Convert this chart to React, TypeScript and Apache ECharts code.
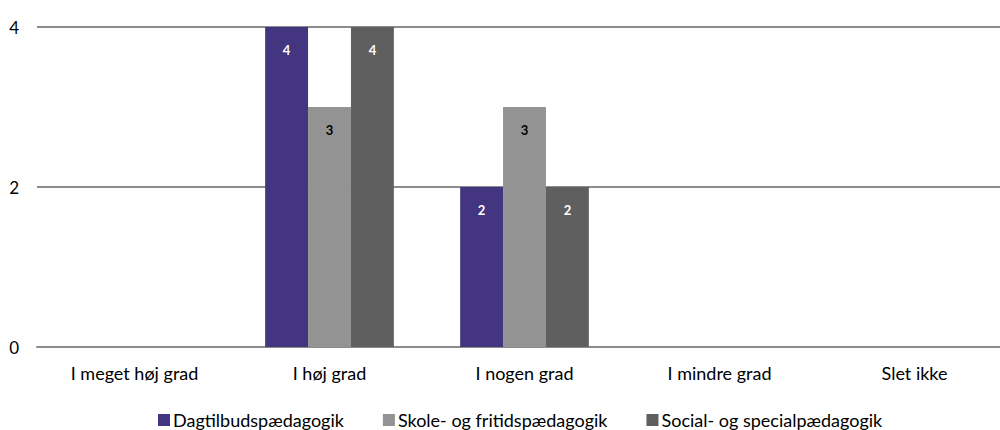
import React, { useEffect, useRef } from "react";
import * as echarts from "echarts";

// Answer categories along the x axis
const categories = ["I meget høj grad", "I høj grad", "I nogen grad", "I mindre grad", "Slet ikke"];

// Counts per education programme
const dagtilbud = [0, 4, 2, 0, 0];
const skoleFritid = [0, 3, 3, 0, 0];
const socialSpecial = [0, 4, 2, 0, 0];

const seriesNames = ["Dagtilbudspædagogik", "Skole- og fritidspædagogik", "Social- og specialpædagogik"];
const seriesColors = ["#433580", "#939393", "#5f5f5f"];
const labelColors = ["#ffffff", "#000000", "#ffffff"];

const yTicks = [0, 2, 4];

const FONT = "'Source Sans Pro', Lato, 'Noto Sans', sans-serif";

export default function App() {
  const ref = useRef<HTMLDivElement>(null);

  useEffect(() => {
    if (!ref.current) return;
    const chart = echarts.init(ref.current, undefined, { renderer: "svg" });
    const data = [dagtilbud, skoleFritid, socialSpecial];
    chart.setOption({
      animation: false,
      textStyle: { fontFamily: FONT },
      // the plot runs a little past the visible right edge, clipped by the wrapper
      grid: { left: 37, right: 0, top: 27, bottom: 83, containLabel: false },
      legend: {
        bottom: -4,
        left: 153,
        itemWidth: 12,
        itemHeight: 12,
        itemGap: 39,
        icon: "rect",
        textStyle: { fontFamily: FONT, fontSize: 18, color: "#000", padding: [0, 0, 0, -2] },
        data: seriesNames,
      },
      xAxis: {
        type: "category",
        data: categories,
        axisTick: { show: false },
        axisLine: { lineStyle: { color: "#8c8c8c", width: 2 } },
        axisLabel: { color: "#000", fontSize: 18, margin: 17, fontFamily: FONT },
      },
      yAxis: {
        type: "value",
        min: yTicks[0],
        max: yTicks[yTicks.length - 1],
        interval: 2,
        axisLabel: { color: "#000", fontSize: 17, margin: 18, fontFamily: FONT },
        splitLine: { lineStyle: { color: "#8c8c8c", width: 2 } },
        axisLine: { show: false },
        axisTick: { show: false },
      },
      series: seriesNames.map((name, i) => ({
        name,
        type: "bar",
        data: data[i],
        barGap: "0%",
        barCategoryGap: "34%",
        itemStyle: { color: seriesColors[i] },
        label: {
          show: true,
          position: "insideTop",
          distance: 16,
          color: labelColors[i],
          fontWeight: "bold",
          fontSize: 13,
          fontFamily: FONT,
          formatter: (p: any) => (p.value ? String(p.value) : ""),
        },
      })),
    });
    return () => chart.dispose();
  }, []);

  return (
    <div
      style={{
        position: "fixed",
        left: 0,
        top: 0,
        width: 1000,
        height: 430,
        overflow: "hidden",
        background: "#fff",
      }}
    >
      <div ref={ref} style={{ width: 1012, height: 430 }} />
    </div>
  );
}
